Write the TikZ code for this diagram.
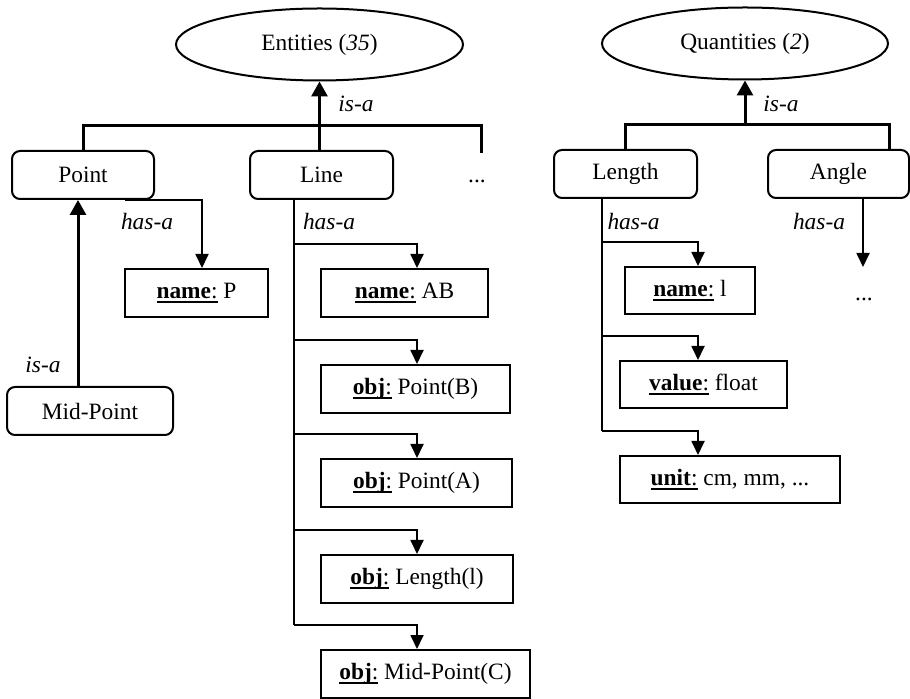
\documentclass[tikz,border=0pt]{standalone}
\usepackage{fontspec}
\setmainfont{Liberation Serif}
\usetikzlibrary{arrows.meta,positioning,shapes.geometric,calc}

\newsavebox{\attrbox}
\newcommand{\attrkey}[1]{\sbox{\attrbox}{\textbf{#1}:}\rlap{\rule[-2.2pt]{\wd\attrbox}{0.9pt}}\usebox{\attrbox}}

\begin{document}
\begin{tikzpicture}[x=0.5pt,y=-0.5pt,
    font=\fontsize{11.7}{14}\selectfont,
    cls/.style={rectangle,draw,line width=1pt,rounded corners=4pt,minimum height=24pt,inner sep=0pt},
    attr/.style={rectangle,draw,line width=1pt,minimum height=24pt,inner sep=0pt},
    concept/.style={ellipse,draw,line width=1pt,minimum height=36pt,inner sep=0pt},
    bus/.style={line width=1.5pt},
    isa/.style={line width=1.5pt,-{Triangle[width=8pt,length=7.5pt]}},
    link/.style={line width=0.9pt},
    hasa/.style={line width=0.9pt,-{Triangle[width=6.5pt,length=7pt]}},
    lbl/.style={font=\fontsize{11.7}{14}\selectfont\itshape}]
    \useasboundingbox (0,0) rectangle (910,699);

    % Concepts
    \node[concept,minimum width=143.5pt] (entities) at (319.5,44.5) {Entities (\textit{35})};
    \node[concept,minimum width=143pt] (quantities) at (745,43.5) {Quantities (\textit{2})};

    % Classes
    \node[cls,minimum width=71pt] (point) at (83,175) {Point};
    \node[cls,minimum width=71.5pt] (line) at (321.5,175) {Line};
    \node[anchor=base] (edotstxt) at (477,183) {...};
    \node[cls,minimum width=71.5pt] (length) at (625.5,174) {Length};
    \node[cls,minimum width=70.5pt] (angle) at (838.5,174) {Angle};
    \node[cls,minimum width=83pt] (midp) at (90,411) {Mid-Point};

    % Attributes
    \node[attr,minimum width=71.5pt] (namep) at (196.5,293) {\attrkey{name} P};
    \node[attr,minimum width=83.5pt] (nameab) at (404.5,293) {\attrkey{name} AB};
    \node[attr,minimum width=94.5pt] (ptb) at (415.5,389) {\attrkey{obj} Point(B)};
    \node[attr,minimum width=95.5pt] (pta) at (416.5,483) {\attrkey{obj} Point(A)};
    \node[attr,minimum width=96pt] (lenl) at (417,579) {\attrkey{obj} Length(l)};
    \node[attr,minimum width=104.5pt] (midc) at (425.5,674) {\attrkey{obj} Mid-Point(C)};
    \node[attr,minimum width=65pt,minimum height=23.5pt] (namel) at (690,290.5) {\attrkey{name} l};
    \node[attr,minimum width=83.5pt,minimum height=23.5pt] (valf) at (703.5,384.5) {\attrkey{value} float};
    \node[attr,minimum width=110pt,minimum height=23.5pt] (unit) at (730,479.5) {\attrkey{unit} cm, mm, ...};
    \node[anchor=base] (adotstxt) at (864,301) {...};

    % Helper coordinates
    \coordinate (edots) at (481,153);
    \coordinate (qr) at (889,0);
    \coordinate (mx) at (78,0);
    \coordinate (ps) at (125,0);
    \coordinate (pa) at (202,0);
    \coordinate (ls) at (294,0);
    \coordinate (lx) at (417,0);
    \coordinate (qs) at (602,0);
    \coordinate (qa) at (698,0);
    \coordinate (aend) at (863,267);

    % is-a hierarchy
    \draw[bus] (point.north) -- ++(0,-24) -| (edots);
    \draw[isa] (line.north -| entities.south) -- (entities.south);
    \draw[bus] (length.north) -- ++(0,-24) -| (angle.north -| qr);
    \draw[isa] (quantities.south |- length.north) ++(0,-24) -- (quantities.south);
    \draw[isa] (midp.north -| mx) -- (point.south -| mx);

    % has-a links
    \draw[hasa] (point.south -| ps) -| (namep.north -| pa);
    \draw[link] (line.south -| ls) -- ($(ls |- midc.north)+(0,-24)$);
    \foreach \b in {nameab,ptb,pta,lenl,midc}
        \draw[hasa] ($(ls |- \b.north)+(0,-24)$) -| (\b.north -| lx);
    \draw[link] (length.south -| qs) -- ($(qs |- unit.north)+(0,-24)$);
    \foreach \b in {namel,valf,unit}
        \draw[hasa] ($(qs |- \b.north)+(0,-24)$) -| (\b.north -| qa);
    \draw[hasa] (angle.south -| aend) -- (aend);

    % Labels
    \node[lbl] at (356,104) {is-a};
    \node[lbl] at (781,104) {is-a};
    \node[lbl] at (43,365) {is-a};
    \node[lbl] at (147,222) {has-a};
    \node[lbl] at (329,222) {has-a};
    \node[lbl] at (633.5,222) {has-a};
    \node[lbl] at (819,222) {has-a};
\end{tikzpicture}
\end{document}
